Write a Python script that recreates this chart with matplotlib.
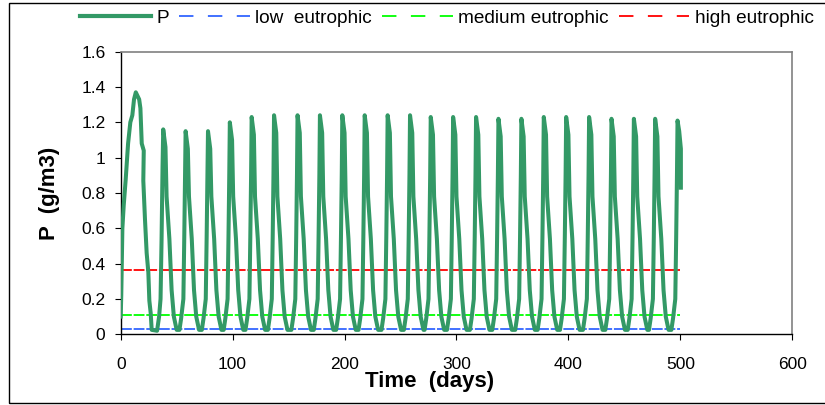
import matplotlib
matplotlib.use("Agg")
import matplotlib.pyplot as plt
from matplotlib.lines import Line2D
from matplotlib.patches import Rectangle

plt.rcParams['font.family'] = ['Liberation Sans', 'DejaVu Sans']

# P concentration over time (one row per cycle)
t_days = [
    0, 0.5, 1.5, 2.7, 4.5, 6.6, 8.6, 10.4, 11.9, 13.5, 16.5, 17.6, 18.8, 20.6, 20.2, 21.7, 23.2, 24.7, 25.6, 26.8, 27.7, 32.5, 34.3, 35.6, 36.5, 37.4,
    38, 40, 41, 43.5, 45.5, 47.5, 50, 52.5, 54, 56, 56.8, 57.5,
    58, 60, 61, 63.5, 65.5, 67.5, 70, 72.5, 74, 76, 76.8, 77.5,
    78, 80, 81, 83.5, 85.5, 87.5, 90, 92, 93.5, 95.5, 96.3, 97,
    97.5, 99.5, 100.5, 103, 105, 107, 109.5, 111.5, 113, 115, 115.8, 116.5,
    117, 119, 120, 122.5, 124.5, 126.5, 129, 131.5, 133, 135, 135.8, 136.5,
    137, 139, 140, 142.5, 144.5, 146.5, 149, 152.5, 154, 156, 156.8, 157.5,
    158, 160, 161, 163.5, 165.5, 167.5, 170, 172.5, 174, 176, 176.8, 177.5,
    178, 180, 181, 183.5, 185.5, 187.5, 190, 192.5, 194, 196, 196.8, 197.5,
    198, 200, 201, 203.5, 205.5, 207.5, 210, 212.5, 214, 216, 216.8, 217.5,
    218, 220, 221, 223.5, 225.5, 227.5, 230, 233, 234.5, 236.5, 237.3, 238,
    238.5, 240.5, 241.5, 244, 246, 248, 250.5, 253, 254.5, 256.5, 257.3, 258,
    258.5, 260.5, 261.5, 264, 266, 268, 270.5, 271.5, 273, 275, 275.8, 276.5,
    277, 279, 280, 282.5, 284.5, 286.5, 289, 291.5, 293, 295, 295.8, 296.5,
    297, 299, 300, 302.5, 304.5, 306.5, 309, 312, 313.5, 315.5, 316.3, 317,
    317.5, 319.5, 320.5, 323, 325, 327, 329.5, 332, 333.5, 335.5, 336.3, 337,
    337.5, 339.5, 340.5, 343, 345, 347, 349.5, 352.5, 354, 356, 356.8, 357.5,
    358, 360, 361, 363.5, 365.5, 367.5, 370, 372.5, 374, 376, 376.8, 377.5,
    378, 380, 381, 383.5, 385.5, 387.5, 390, 392.5, 394, 396, 396.8, 397.5,
    398, 400, 401, 403.5, 405.5, 407.5, 410, 413, 414.5, 416.5, 417.3, 418,
    418.5, 420.5, 421.5, 424, 426, 428, 430.5, 433, 434.5, 436.5, 437.3, 438,
    438.5, 440.5, 441.5, 444, 446, 448, 450.5, 453, 454.5, 456.5, 457.3, 458,
    458.5, 460.5, 461.5, 464, 466, 468, 470.5, 472, 473.5, 475.5, 476.3, 477,
    477.5, 479.5, 480.5, 483, 485, 487, 489.5, 492, 493.5, 495.5, 496.3, 497,
    497.5, 499, 500.5, 500.5,
]
p_conc = [
    0.10, 0.22, 0.60, 0.73, 0.88, 1.08, 1.20, 1.24, 1.33, 1.37, 1.33, 1.28, 1.08, 1.04, 0.87, 0.65, 0.46, 0.35, 0.19, 0.12, 0.025, 0.02, 0.10, 0.20, 0.53, 0.95,
    1.16, 1.06, 0.78, 0.54, 0.25, 0.10, 0.025, 0.025, 0.09, 0.20, 0.55, 0.90,
    1.15, 1.05, 0.78, 0.54, 0.25, 0.10, 0.025, 0.025, 0.09, 0.20, 0.55, 0.90,
    1.15, 1.05, 0.78, 0.54, 0.25, 0.10, 0.025, 0.025, 0.09, 0.20, 0.55, 0.90,
    1.20, 1.10, 0.78, 0.54, 0.25, 0.10, 0.025, 0.025, 0.09, 0.20, 0.55, 0.90,
    1.23, 1.13, 0.78, 0.54, 0.25, 0.10, 0.025, 0.025, 0.09, 0.20, 0.55, 0.90,
    1.24, 1.14, 0.78, 0.54, 0.25, 0.10, 0.025, 0.025, 0.09, 0.20, 0.55, 0.90,
    1.24, 1.14, 0.78, 0.54, 0.25, 0.10, 0.025, 0.025, 0.09, 0.20, 0.55, 0.90,
    1.24, 1.14, 0.78, 0.54, 0.25, 0.10, 0.025, 0.025, 0.09, 0.20, 0.55, 0.90,
    1.24, 1.14, 0.78, 0.54, 0.25, 0.10, 0.025, 0.025, 0.09, 0.20, 0.55, 0.90,
    1.24, 1.14, 0.78, 0.54, 0.25, 0.10, 0.025, 0.025, 0.09, 0.20, 0.55, 0.90,
    1.24, 1.14, 0.78, 0.54, 0.25, 0.10, 0.025, 0.025, 0.09, 0.20, 0.55, 0.90,
    1.24, 1.14, 0.78, 0.54, 0.25, 0.10, 0.025, 0.025, 0.09, 0.20, 0.55, 0.90,
    1.23, 1.13, 0.78, 0.54, 0.25, 0.10, 0.025, 0.025, 0.09, 0.20, 0.55, 0.90,
    1.23, 1.13, 0.78, 0.54, 0.25, 0.10, 0.025, 0.025, 0.09, 0.20, 0.55, 0.90,
    1.23, 1.13, 0.78, 0.54, 0.25, 0.10, 0.025, 0.025, 0.09, 0.20, 0.55, 0.90,
    1.22, 1.12, 0.78, 0.54, 0.25, 0.10, 0.025, 0.025, 0.09, 0.20, 0.55, 0.90,
    1.22, 1.12, 0.78, 0.54, 0.25, 0.10, 0.025, 0.025, 0.09, 0.20, 0.55, 0.90,
    1.23, 1.13, 0.78, 0.54, 0.25, 0.10, 0.025, 0.025, 0.09, 0.20, 0.55, 0.90,
    1.23, 1.13, 0.78, 0.54, 0.25, 0.10, 0.025, 0.025, 0.09, 0.20, 0.55, 0.90,
    1.23, 1.13, 0.78, 0.54, 0.25, 0.10, 0.025, 0.025, 0.09, 0.20, 0.55, 0.90,
    1.22, 1.12, 0.78, 0.54, 0.25, 0.10, 0.025, 0.025, 0.09, 0.20, 0.55, 0.90,
    1.22, 1.12, 0.78, 0.54, 0.25, 0.10, 0.025, 0.025, 0.09, 0.20, 0.55, 0.90,
    1.22, 1.12, 0.78, 0.54, 0.25, 0.10, 0.025, 0.025, 0.09, 0.20, 0.55, 0.90,
    1.21, 1.15, 1.05, 0.83,
]

# eutrophic thresholds (g/m3), drawn from day 0 to day 500
thr_days = [0, 500]
low_eutrophic = [0.03, 0.03]
medium_eutrophic = [0.11, 0.11]
high_eutrophic = [0.365, 0.365]

x_ticks = [0, 100, 200, 300, 400, 500, 600]
y_ticks = [0, 0.2, 0.4, 0.6, 0.8, 1.0, 1.2, 1.4, 1.6]
y_ticklabels = ['0', '0.2', '0.4', '0.6', '0.8', '1', '1.2', '1.4', '1.6']

fig = plt.figure(figsize=(8.25, 4.05), dpi=100)
ax = fig.add_axes([0.1463, 0.1746, 0.814, 0.6978])

ax.plot(t_days, p_conc, color='#339966', lw=2.9, solid_joinstyle='round', zorder=3)
ax.plot(thr_days, low_eutrophic, color='#3366FF', lw=1.3, dashes=(6, 1), zorder=2)
ax.plot(thr_days, medium_eutrophic, color='#00FF00', lw=1.3, dashes=(6, 1), zorder=2)
ax.plot(thr_days, high_eutrophic, color='#FF0000', lw=1.3, dashes=(6, 1), zorder=2)

ax.set_xlim(0, 600)
ax.set_ylim(0, 1.6)
ax.set_xticks(x_ticks)
ax.set_yticks(y_ticks)
ax.set_yticklabels(y_ticklabels)
ax.tick_params(axis='both', direction='out', labelsize=12.5, color='black')
ax.tick_params(axis='y', length=4, pad=7)
ax.tick_params(axis='x', length=4.5, pad=12)

for side in ['top', 'right']:
    ax.spines[side].set_color('#808080')
    ax.spines[side].set_linewidth(1.2)
for side in ['left', 'bottom']:
    ax.spines[side].set_color('black')
    ax.spines[side].set_linewidth(1.0)

ax.set_xlabel('Time  (days)', fontsize=16, fontweight='bold')
ax.xaxis.set_label_coords(0.46, -0.13)
ax.set_ylabel('P  (g/m3)', fontsize=16, fontweight='bold')
ax.yaxis.set_label_coords(-0.09, 0.5)

handles = [
    Line2D([], [], color='#339966', lw=3),
    Line2D([], [], color='#3366FF', lw=1.3, dashes=(8, 8)),
    Line2D([], [], color='#00FF00', lw=1.3, dashes=(8, 8)),
    Line2D([], [], color='#FF0000', lw=1.3, dashes=(8, 8)),
]
labels = ['P', 'low  eutrophic', 'medium eutrophic', 'high eutrophic']
fig.legend(handles, labels, loc='center', bbox_to_anchor=(0.542, 0.955), ncol=4,
           frameon=False, fontsize=13.7, handlelength=3.7, handletextpad=0.28,
           columnspacing=0.55, borderaxespad=0)

# chart area border (right edge falls outside the picture)
fig.patches.append(Rectangle((0.0115, 0.005), 1.1, 0.988, transform=fig.transFigure,
                             fill=False, edgecolor='black', lw=1.0))

fig.savefig('out.png', dpi=100)
